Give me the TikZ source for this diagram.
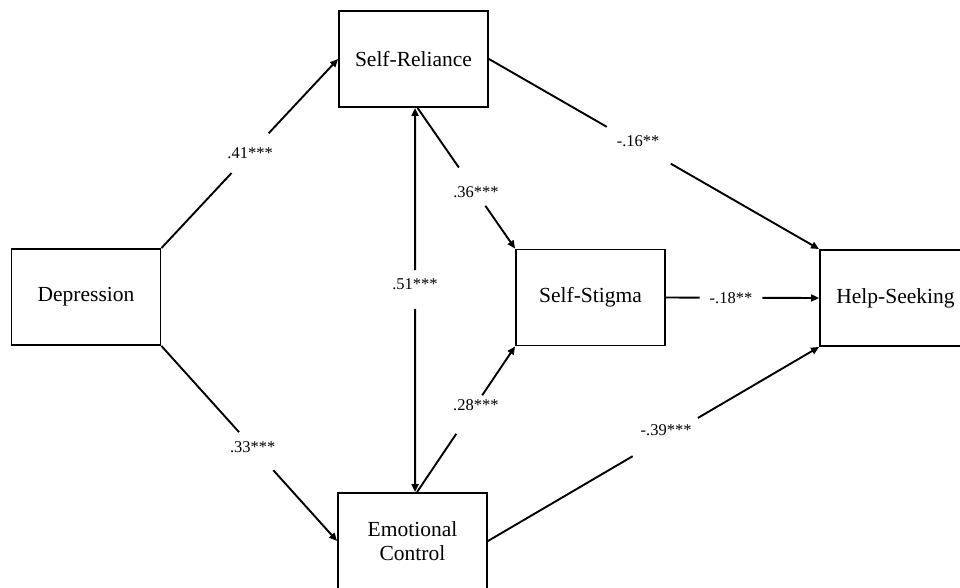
\documentclass[tikz,border=0pt]{standalone}
\usepackage{fontspec}
\setmainfont{Liberation Serif}
\usetikzlibrary{arrows.meta,calc}
\begin{document}
\begin{tikzpicture}[x=1pt,y=-1pt,
  box/.style={draw,line width=1.9pt,minimum width=149pt,minimum height=96pt,inner sep=0pt,
    font=\fontsize{21.5}{24}\selectfont,align=center},
  conn/.style={line width=1.9pt},
  arr/.style={line width=1.9pt,-{Triangle[length=8pt,width=7pt]}},
  lbl/.style={font=\fontsize{16.5}{18}\selectfont,inner sep=0pt}]
\clip (0,0) rectangle (960,587);
\fill[white] (0,0) rectangle (960,587);
% boxes
\node[box] (Dep) at (86,297) {Depression};
\node[box] (SR) at (413.5,59) {Self-Reliance};
\node[box] (SS) at (590.5,297.5) {Self-Stigma};
\node[box,minimum width=151pt] (HS) at (895.5,298) {Help-Seeking};
\node[box] (EC) at (412.5,541) {Emotional\\Control};
% anchor points
\coordinate (srv) at ($(SR.south west)+(77,0)$);
\coordinate (srd) at ($(SR.south west)+(79.5,0)$);
\coordinate (ecv) at ($(EC.north west)+(78,0)$);
\coordinate (ecd) at ($(EC.north west)+(80,0)$);
% Depression -> Self-Reliance
\draw[conn] (Dep.north east) -- ($(Dep.north east)!0.397!(SR.west)$);
\draw[arr] ($(Dep.north east)!0.607!(SR.west)$) -- (SR.west);
\node[lbl] (l41) at ($(Dep.north east)!0.502!(SR.west)$) {.41***};
% Depression -> Emotional Control
\draw[conn] (Dep.south east) -- ($(Dep.south east)!0.442!(EC.west)$);
\draw[arr] ($(Dep.south east)!0.637!(EC.west)$) -- (EC.west);
\node[lbl] (l33) at ($(Dep.south east)!0.52!(EC.west)$) {.33***};
% Self-Reliance <-> Emotional Control
\draw[conn,{Triangle[length=8pt,width=7pt]}-] (srv) -- ($(srv)!0.422!(ecv)$);
\draw[arr] ($(srv)!0.523!(ecv)$) -- (ecv);
\node[lbl] (l51) at ($(srv)!0.458!(ecv)$) {.51***};
% Self-Reliance -> Self-Stigma
\draw[conn] (srd) -- ($(srd)!0.424!(SS.north west)$);
\draw[arr] ($(srd)!0.696!(SS.north west)$) -- (SS.north west);
\node[lbl] (l36) at ($(srd)!0.6!(SS.north west)$) {.36***};
% Emotional Control -> Self-Stigma
\draw[conn] (ecd) -- ($(ecd)!0.40!(SS.south west)$);
\draw[arr] ($(ecd)!0.665!(SS.south west)$) -- (SS.south west);
\node[lbl] (l28) at ($(ecd)!0.6!(SS.south west)$) {.28***};
% Self-Reliance -> Help-Seeking
\draw[conn] (SR.east) -- ($(SR.east)!0.357!(HS.north west)$);
\draw[arr] ($(SR.east)!0.551!(HS.north west)$) -- (HS.north west);
\node[lbl] (l16) at ($(SR.east)!0.452!(HS.north west)+(0,-4)$) {-.16**};
% Self-Stigma -> Help-Seeking
\draw[conn] (SS.east) -- ($(SS.east)!0.22!(HS.west)$);
\draw[arr] ($(SS.east)!0.63!(HS.west)$) -- (HS.west);
\node[lbl] (l18) at ($(SS.east)!0.425!(HS.west)$) {-.18**};
% Emotional Control -> Help-Seeking
\draw[conn] (EC.east) -- ($(EC.east)!0.437!(HS.south west)$);
\draw[arr] ($(EC.east)!0.634!(HS.south west)$) -- (HS.south west);
\node[lbl] (l39) at ($(EC.east)!0.538!(HS.south west)+(0,-6)$) {-.39***};
\end{tikzpicture}
\end{document}
